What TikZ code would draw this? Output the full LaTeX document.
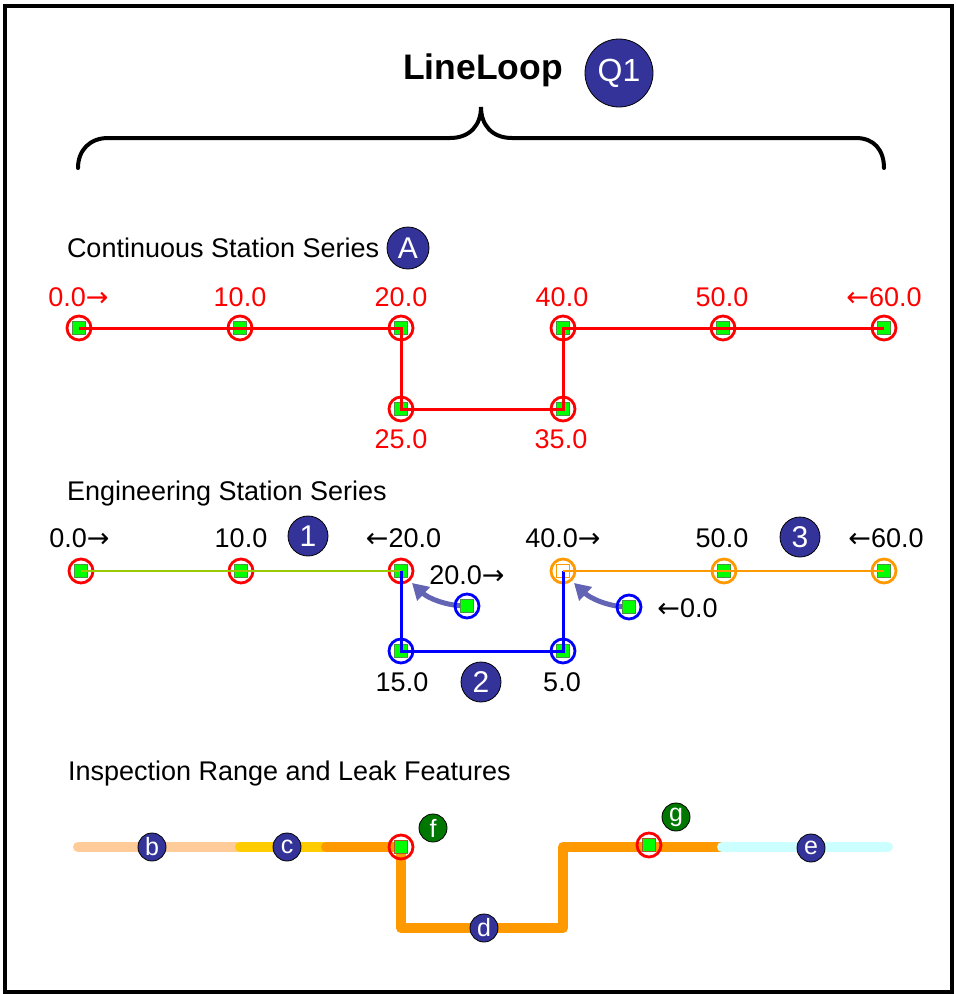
\documentclass[tikz,border=0pt]{standalone}
\usepackage{fontspec}
\setmainfont{Liberation Sans}
\newfontfamily\arrowfont{DejaVu Sans}
\newcommand{\rarr}{{\arrowfont →}}
\newcommand{\larr}{{\arrowfont ←}}
\usetikzlibrary{arrows.meta}

\definecolor{badgeblue}{RGB}{51,51,153}
\definecolor{leafgreen}{RGB}{0,255,0}
\definecolor{sqedge}{RGB}{70,150,70}
\definecolor{leakedge}{RGB}{170,90,40}
\definecolor{limeline}{RGB}{153,204,0}
\definecolor{orangeline}{RGB}{255,153,0}
\definecolor{peach}{RGB}{255,204,153}
\definecolor{amber}{RGB}{255,204,0}
\definecolor{icecyan}{RGB}{204,255,255}
\definecolor{leakgreen}{RGB}{0,119,0}
\definecolor{pointer}{RGB}{100,100,180}

\begin{document}
\begin{tikzpicture}[x=1pt,y=-1pt,
  every node/.style={inner sep=0pt, outer sep=0pt},
  lbl/.style={font=\fontsize{27}{30}\selectfont, anchor=base},
  sect/.style={font=\fontsize{27}{30}\selectfont, anchor=base west},
  stn/.style={rectangle, minimum size=13, fill=leafgreen, draw=sqedge, line width=0.8},
  leak/.style={rectangle, minimum size=13, fill=leafgreen, draw=leakedge, line width=0.8},
  hollow/.style={rectangle, minimum size=13, fill=white, draw=orangeline, line width=0.8},
  ring/.style={circle, minimum size=24, draw=#1, line width=2.8},
  badge/.style={circle, minimum size=#1, fill=badgeblue, draw=black, line width=0.8, text=white},
  leakbadge/.style={circle, minimum size=28, fill=leakgreen, draw=black, line width=0.8, text=white,
    font=\fontsize{25}{26}\selectfont},
  smallbadge/.style={badge=28, font=\fontsize{25}{26}\selectfont},
  midbadge/.style={badge=40, font=\fontsize{30}{32}\selectfont},
  route/.style={line width=10, line cap=round, line join=round},
  hint/.style={pointer, line width=5, -{Triangle[length=16,width=18]}}
]
\useasboundingbox (0,0) rectangle (956,994);

% frame
\draw[line width=3.2] (5,6) rectangle (952,992);

% title and brace
\node[font=\fontsize{35.5}{40}\selectfont\bfseries, anchor=base] (title) at (483,79) {LineLoop};
\node[badge=68, font=\fontsize{32}{34}\selectfont] (q1) at (619,73) {Q1};
\draw[line width=4, line cap=round]
  (78,168) .. controls (78,150) and (90,138) .. (108,138) -- (450,138)
  .. controls (470,138) and (481,125) .. (481,107)
  .. controls (481,125) and (492,138) .. (512,138) -- (856,138)
  .. controls (874,138) and (884,150) .. (884,168);

% ---- continuous station series ----
\node[sect] (ctitle) at (67,257) {Continuous Station Series};
\node[midbadge, minimum size=42] (ba) at (408,248) {A};

\foreach \n/\x/\y in {0/79/328, 10/240/328, 20/401/328, 25/401/409,
                      35/563/409, 40/563/328, 50/723/328, 60/884/328} {
  \node[stn] (c\n) at (\x,\y) {};
  \node[ring=red] (rc\n) at (\x,\y) {};
}
\draw[red, line width=3] (c0.center) -- (c10.center) -- (c20.center) -- (c25.center)
  -- (c35.center) -- (c40.center) -- (c50.center) -- (c60.center);

\begin{scope}[every node/.append style={text=red}]
\node[lbl] (lc0)  at (78.5,306) {0.0\rarr};
\node[lbl] (lc10) at (240,306) {10.0};
\node[lbl] (lc20) at (401,306) {20.0};
\node[lbl] (lc40) at (562,306) {40.0};
\node[lbl] (lc50) at (722,306) {50.0};
\node[lbl] (lc60) at (884,306) {\larr60.0};
\node[lbl] (lc25) at (401,448) {25.0};
\node[lbl] (lc35) at (561,448) {35.0};
\end{scope}

% ---- engineering station series ----
\node[sect] (etitle) at (67,500) {Engineering Station Series};

\coordinate (t20) at (412,583);
\coordinate (t0) at (574,583);
\node[stn] (p20) at (467,606) {};
\node[stn] (p0) at (629,607) {};
\draw[hint] (p20.center) .. controls (446,606) and (428,598) .. (t20);
\draw[hint] (p0.center) .. controls (608,607) and (590,598) .. (t0);
\node[stn] (p20) at (467,606) {};
\node[stn] (p0) at (629,607) {};
\node[ring=blue] (rp20) at (467,606) {};
\node[ring=blue] (rp0) at (629,607) {};

\foreach \n/\x/\y in {0/81/571, 10/241/571, 20/401/571} {
  \node[stn] (e\n) at (\x,\y) {};
  \node[ring=red] (re\n) at (\x,\y) {};
}
\node[hollow] (e40) at (563,571) {};
\node[ring=orangeline] (re40) at (563,571) {};
\foreach \n/\x/\y in {50/724/571, 60/884/571} {
  \node[stn] (e\n) at (\x,\y) {};
  \node[ring=orangeline] (re\n) at (\x,\y) {};
}
\foreach \n/\x/\y in {15/401/651, 5/563/651} {
  \node[stn] (b\n) at (\x,\y) {};
  \node[ring=blue] (rb\n) at (\x,\y) {};
}
\draw[limeline, line width=2.8] (e0.center) -- (e10.center) -- (e20.center);
\draw[blue, line width=3] (e20.center) -- (b15.center) -- (b5.center) -- (e40.center);
\draw[orangeline, line width=2.8] (e40.center) -- (e50.center) -- (e60.center);

\node[lbl] (le0)  at (79.5,547) {0.0\rarr};
\node[lbl] (le10) at (241,547) {10.0};
\node[lbl] (le20) at (403.5,547) {\larr20.0};
\node[lbl] (lp20) at (467,584) {20.0\rarr};
\node[lbl] (le40) at (563,547) {40.0\rarr};
\node[lbl] (le50) at (722,547) {50.0};
\node[lbl] (le60) at (886,547) {\larr60.0};
\node[lbl] (lp0)  at (687.5,617) {\larr0.0};
\node[lbl] (lb15) at (402,691) {15.0};
\node[lbl] (lb5)  at (562,691) {5.0};

\node[midbadge] (b1) at (308,536) {1};
\node[midbadge] (b2) at (481,682) {2};
\node[midbadge] (b3) at (800,537) {3};

% ---- inspection range and leak features ----
\node[sect] (ititle) at (68,780) {Inspection Range and Leak Features};

\coordinate (i0) at (78,847);
\coordinate (i1) at (240,847);
\coordinate (i2) at (326,847);
\coordinate (k1) at (401,847);
\coordinate (k2) at (401,928);
\coordinate (k3) at (563,928);
\coordinate (k4) at (563,847);
\coordinate (i3) at (722,847);
\coordinate (i4) at (888,847);

\draw[route, peach] (i0) -- (i1);
\draw[route, amber] (i1) -- (i2);
\draw[route, orangeline] (i2) -- (k1) -- (k2) -- (k3) -- (k4) -- (i3);
\draw[route, icecyan] (i3) -- (i4);

\node[leak] (lk1) at (401,847) {};
\node[ring=red] (rlk1) at (401,847) {};
\node[leak] (lk2) at (649,845) {};
\node[ring=red] (rlk2) at (649,845) {};

\node[smallbadge] (bb) at (152,847) {b};
\node[smallbadge] (bc) at (287,847) {c};
\node[smallbadge] (bd) at (484,928) {d};
\node[smallbadge] (be) at (811,848) {e};
\node[leakbadge] (bf) at (433,828) {f};
\node[leakbadge] (bg) at (676,817) {g};
\end{tikzpicture}
\end{document}
